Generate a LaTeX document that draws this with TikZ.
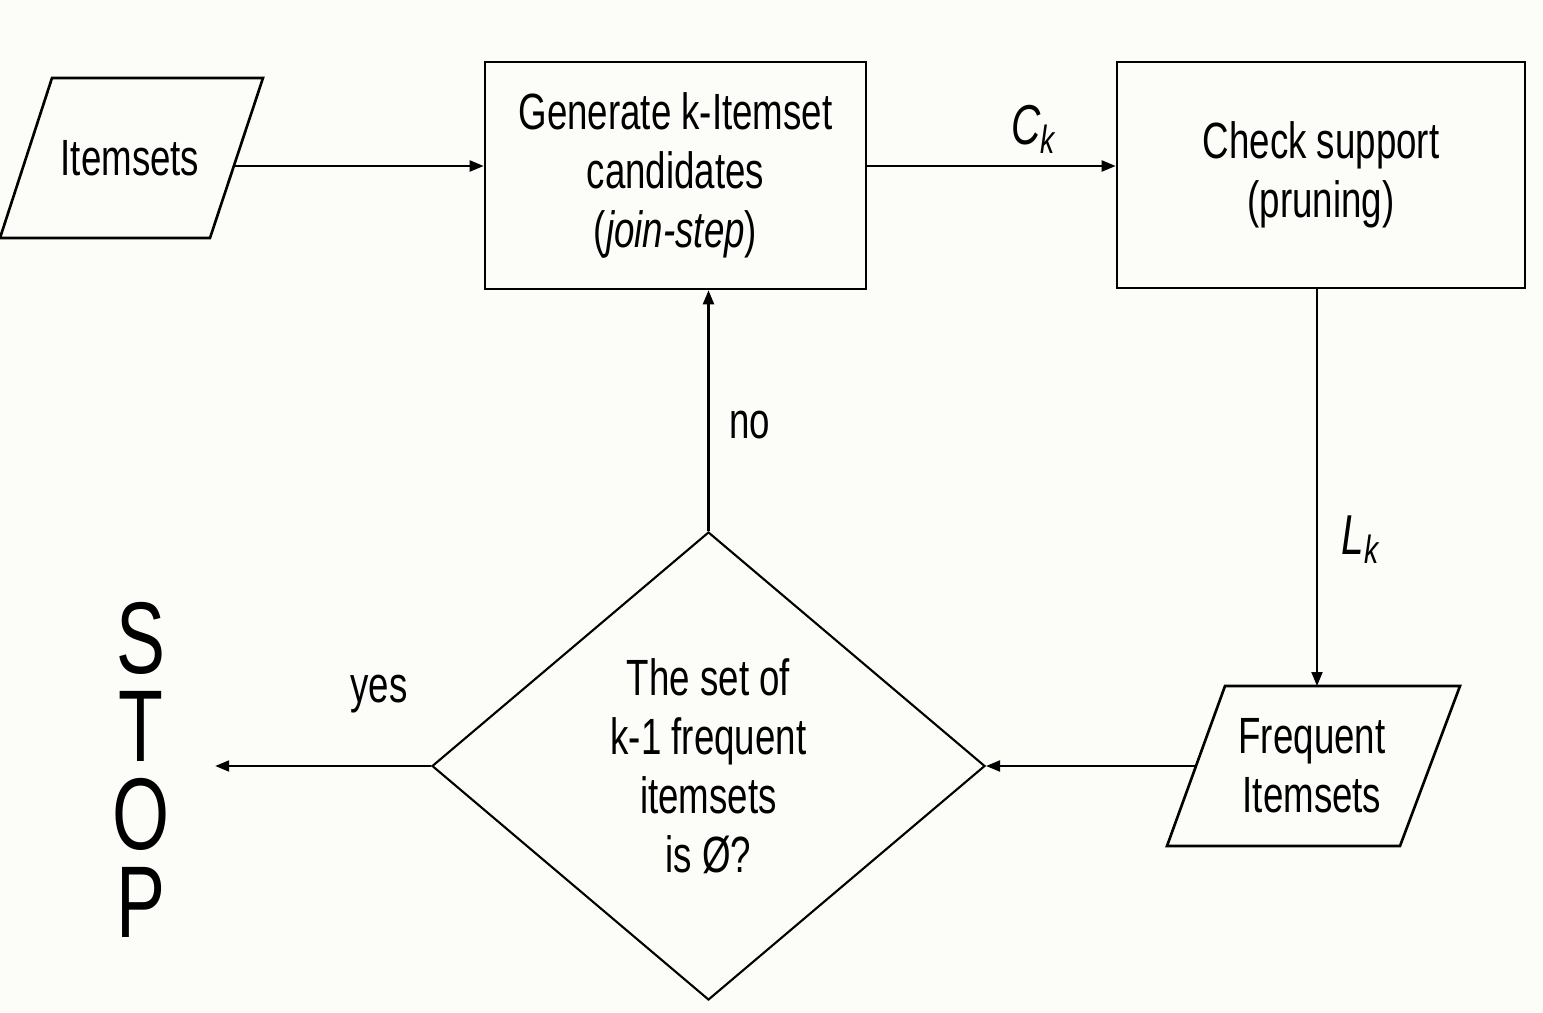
\documentclass[tikz,border=0pt]{standalone}
\usepackage{fontspec}
\setmainfont{Liberation Sans}[FakeStretch=0.72]
\usepackage{tikz}
\usetikzlibrary{calc,shapes.geometric,arrows.meta}
\definecolor{paper}{RGB}{252,252,248}
\def\stepbox{\node[draw=black,line width=0.75pt,align=center,inner sep=0pt]}
\def\drawio{\draw[line width=0.75pt]}
\def\decnode{\node[diamond,draw=black,line width=0.6pt,align=center,inner sep=0pt,minimum width=5.53cm,minimum height=4.68cm]}
\def\drawflow{\draw[line width=0.6pt,-{Triangle[length=1.4mm,width=1.1mm]}]}

\begin{document}
\begin{tikzpicture}[font=\fontsize{14.5}{16.8}\selectfont]
\useasboundingbox[fill=paper] (0,0) rectangle (15.43,10.12);
\coordinate (o) at (7.085,2.46); % centre of the test, the rest hangs off it
\coordinate (toprow) at ($ (o) + (0,6.0) $);

% Decision and STOP
\decnode (test) at (o) {The set of\\k-1 frequent\\itemsets\\is Ø?};
\node[align=center,inner xsep=0.45cm,inner ysep=0pt,font=\fontsize{29}{25}\selectfont] (stop) at ($ (o) + (-5.675,-0.04) $) {S\\T\\O\\P};

% Top row
\node (items) at ($ (o) + (-5.785,6.08) $) {Itemsets};
\drawio ($ (items) + (-0.78,0.8) $) -- ($ (items) + (1.33,0.8) $) -- ($ (items) + (0.80,-0.8) $) -- ($ (items) + (-1.30,-0.8) $) -- cycle;
\coordinate (items_out) at ($ (items) + (1.04,-0.08) $); % right side, at the height of the row
\stepbox[minimum width=3.81cm,minimum height=2.27cm] (gen) at ($ (o) + (-0.33,5.905) $) {Generate k-Itemset\\candidates\\(\textit{join-step})};
\stepbox[minimum width=4.08cm,minimum height=2.26cm] (check) at ($ (o) + (6.125,5.91) $) {Check support\\(pruning)};

% Output of the pruning
\node[align=center] (freq) at ($ (o) + (6.035,0) $) {Frequent\\Itemsets};
\drawio ($ (freq) + (-0.87,0.8) $) -- ($ (freq) + (1.48,0.8) $) -- ($ (freq) + (0.88,-0.8) $) -- ($ (freq) + (-1.45,-0.8) $) -- cycle;
\coordinate (freq_top) at ($ (freq) + (0,0.8) $);
\coordinate (freq_in) at ($ (freq) + (-1.16,0) $);

% Connectors
\drawflow (items_out) -- (gen.west |- toprow);
\drawflow (gen.east |- toprow) -- node [above,pos=.67,font=\fontsize{16}{18}\selectfont] {\textit{C\textsubscript{k}}} (check.west |- toprow);
\drawflow ([xshift=-0.04cm]check.south) -- node [right=0.12cm,pos=.63,font=\fontsize{16}{18}\selectfont] {\textit{L\textsubscript{k}}} ([xshift=-0.04cm]check.south |- freq_top);
\drawflow (freq_in) -- (test.east);
\drawflow (test.north) -- node [right=0.08cm,pos=.44] {no} (test.north |- gen.south);
\drawflow (test.west) -- node [above=0.4cm,pos=.24] {yes} (test.west -| stop.east);
\end{tikzpicture}
\end{document}
